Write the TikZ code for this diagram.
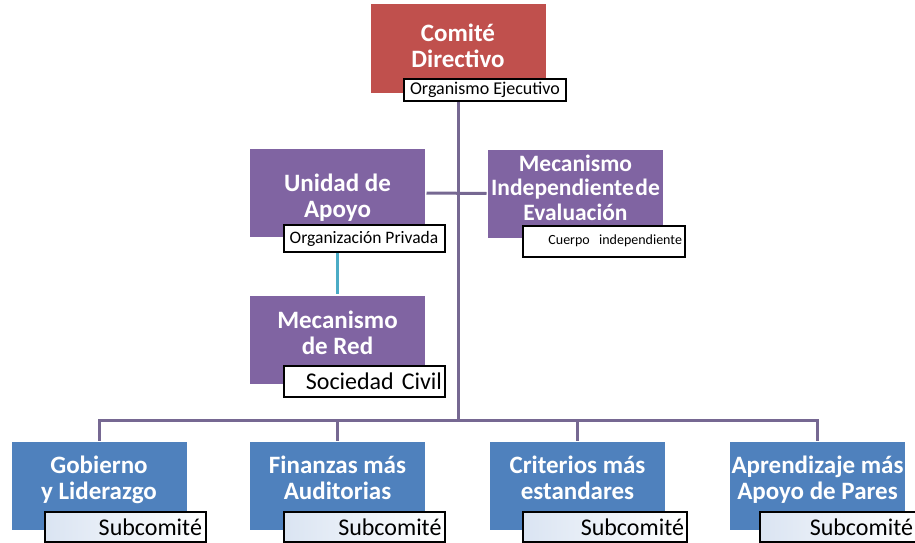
\documentclass[tikz,border=0pt]{standalone}
\usepackage{fontspec}
\setmainfont{Carlito}
\usepackage{xcolor}
\definecolor{cdred}{RGB}{192,80,77}
\definecolor{cdpurple}{RGB}{128,100,162}
\definecolor{cdblue}{RGB}{79,129,189}
\definecolor{cdline}{RGB}{118,104,146}
\definecolor{cdteal}{RGB}{75,172,198}
\definecolor{cdtint}{RGB}{218,228,242}

\begin{document}
\begin{tikzpicture}[x=1pt,y=-1pt,-,line width=3pt,
    main box/.style={rectangle,minimum width=175pt,minimum height=88pt,inner sep=0pt,text=white,align=center,font=\fontsize{25}{26}\selectfont\bfseries},
    tag box/.style={rectangle,draw=black,line width=2pt,fill=white,minimum height=24pt,minimum width=161pt,inner xsep=3pt,inner ysep=0pt,text=black},
    sub box/.style={tag box,minimum height=30pt,align=right,text width=154pt,left color=cdtint,middle color=white,right color=white,font=\fontsize{24}{26}\selectfont}]

                    \useasboundingbox (0,0) rectangle (915,543);

                    % boxes
                    \node[main box, fill=cdred, text depth=6pt] (cd) at (458,48.5) {Comité\\Directivo};
                    \node[main box, fill=cdpurple, text height=53pt] (ua) at (337.5,193) {Unidad de\\Apoyo};
                    \node[main box, fill=cdpurple, text depth=12pt, font=\fontsize{23.5}{24.5}\selectfont\bfseries] (mi) at (575.5,193.5) {Mecanismo\\Independiente\hspace{1.5pt}de\\Evaluación};
                    \node[main box, fill=cdpurple, text depth=14pt] (mr) at (337.5,339.5) {Mecanismo\\de Red};
                    \node[main box, fill=cdblue, text depth=17pt] (g1) at (99,486) {Gobierno\\y Liderazgo};
                    \node[main box, fill=cdblue, text depth=17pt] (g2) at (337.5,486) {Finanzas más\\Auditorias};
                    \node[main box, fill=cdblue, text depth=17pt] (g3) at (577.5,486) {Criterios más\\estandares};
                    \node[main box, fill=cdblue, text depth=17pt] (g4) at (817.5,486) {Aprendizaje más\\Apoyo de Pares};

                    % tags
                    \node[tag box, minimum height=22pt, minimum width=162pt, font=\fontsize{18}{20}\selectfont] (oe) at (485,90) {Organismo Ejecutivo};
                    \node[tag box, minimum height=27pt, inner xsep=2pt, font=\fontsize{17.5}{20}\selectfont] (op) at (364,238.5) {Organización Privada};
                    \node[tag box, minimum height=31pt, align=right, text width=156pt, font=\fontsize{14}{16}\selectfont] (ci) at (604,241) {Cuerpo\ \ independiente};
                    \node[tag box, minimum height=31pt, align=right, text width=155pt, font=\fontsize{24}{26}\selectfont] (sc) at (364.5,381) {Sociedad Civil};
                    \node[sub box] (s1) at (125,527) {Subcomité};
                    \node[sub box] (s2) at (364.5,527) {Subcomité};
                    \node[sub box, text width=158pt] (s3) at (605,527) {Subcomité};
                    \node[sub box, inner xsep=4pt, text width=146pt] (s4) at (840,527) {Subcomité};

                    % connectors
                    \coordinate (bus) at (458,420);
                    \draw[cdline] (bus |- oe.south) to (bus);
                    \draw[cdline] (ua.east) to (mi.west);
                    \draw[cdteal] (mr.north |- op.south) to (mr.north);
                    \draw[cdline] (g1.north) |- (bus) -| (g4.north);
                    \draw[cdline] (g2.north) |- (bus);
                    \draw[cdline] (g3.north) |- (bus);

                    ;
                \end{tikzpicture}
\end{document}
